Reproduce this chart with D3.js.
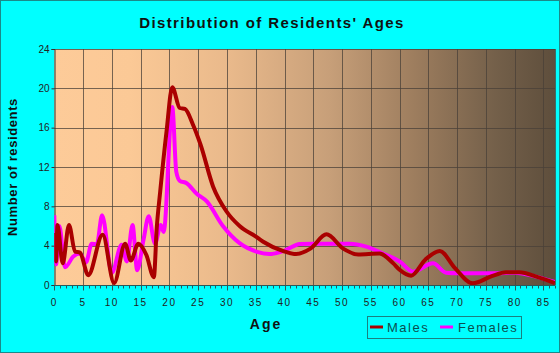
<!DOCTYPE html>
<html><head><meta charset="utf-8">
<script src="https://cdn.jsdelivr.net/npm/d3@7"></script>
<style>
html,body{margin:0;padding:0;background:#00ffff;}
svg{display:block;}
text{font-family:"Liberation Sans",Arial,sans-serif;}
</style></head>
<body>
<script>
// ---- data ----
const maleAges   = [0,0.3,0.55,1.46,2.55,3.6,4.46,5.9,8.4,10.4,12.3,13.3,14.6,16.0,17.3,17.8,18.4,19.5,20.5,21.8,22.7,24.1,25.4,27.6,29.9,32.2,35.1,36.3,39.8,42.0,44.5,47.3,50.2,52.8,56.5,58.9,60.0,62.0,64.5,67.0,69.5,72.7,76.0,78.5,80.8,84.0,87.0];
const maleValues = [5.3,2.4,6.1,2.2,6.1,3.4,3.3,1.0,5.1,0.2,4.2,2.5,4.2,3.05,0.8,5.8,9.5,15.6,20.1,18.0,17.9,16.3,14.3,10.0,7.5,6.0,4.9,4.4,3.45,3.15,3.7,5.15,3.7,3.1,3.2,2.2,1.55,0.95,2.6,3.46,1.8,0.17,0.9,1.3,1.3,0.8,0.2];
const femaleAges   = [0,0.3,0.87,1.86,3.3,4.46,5.5,6.5,7.4,8.3,10.0,11.7,12.6,13.6,14.4,15.5,16.4,17.5,18.5,19.0,20.5,21.2,21.8,23.0,24.7,26.5,29.3,32.2,35.1,37.4,40.0,42.7,45.0,51.3,54.2,57.1,60.0,62.3,65.8,68.1,70.0,76.8,80.0,84.0,87.0];
const femaleValues = [7.1,2.1,6.0,1.8,2.9,3.2,2.3,4.2,4.15,7.1,1.25,4.1,2.4,6.1,1.5,4.6,7.0,4.2,6.1,5.4,18.1,11.5,10.6,10.35,9.3,8.5,6.0,4.25,3.4,3.15,3.5,4.17,4.2,4.2,3.9,3.2,2.4,1.36,2.2,1.25,1.2,1.2,1.25,0.8,0.3];
const yTicks = [0,4,8,12,16,20,24];
const xTicks = [0,5,10,15,20,25,30,35,40,45,50,55,60,65,70,75,80,85];
const seriesNames = ["Males","Females"];
const seriesColors = ["#aa0000","#ff00ff"];

const W = 560, H = 353;
const m = {left:54.3, right:555, top:49, bottom:285};
const svg = d3.select("body").append("svg").attr("width",W).attr("height",H);

// outer border
svg.append("rect").attr("x",0.5).attr("y",0.5).attr("width",W-1).attr("height",H-1)
  .attr("fill","#00ffff").attr("stroke","#1a8a8a").attr("stroke-width",1);

const x = d3.scaleLinear().domain([0,87]).range([m.left,m.right]);
const y = d3.scaleLinear().domain([0,24]).range([m.bottom,m.top]);

// gradient background
const defs = svg.append("defs");
const g = defs.append("linearGradient").attr("id","bg").attr("x1","0%").attr("x2","100%").attr("y1","0%").attr("y2","0%");
[[0,"#fdcb99"],[0.15,"#fbc996"],[0.35,"#e9b98b"],[0.55,"#c79f79"],[0.72,"#9d7d5e"],[0.88,"#74604a"],[1,"#5e4e3c"]]
  .forEach(s=>g.append("stop").attr("offset",s[0]).attr("stop-color",s[1]));
svg.append("rect").attr("x",m.left).attr("y",m.top).attr("width",m.right-m.left).attr("height",m.bottom-m.top).attr("fill","url(#bg)");

// grid
const grid = svg.append("g").attr("stroke","#4a4038").attr("stroke-opacity",0.75).attr("stroke-width",1);
yTicks.filter(t=>t>0).forEach(t=>grid.append("line").attr("x1",m.left).attr("x2",m.right)
  .attr("y1",Math.round(y(t))+0.5).attr("y2",Math.round(y(t))+0.5));
xTicks.filter(t=>t>0).forEach(t=>grid.append("line").attr("y1",m.top).attr("y2",m.bottom)
  .attr("x1",Math.round(x(t))+0.5).attr("x2",Math.round(x(t))+0.5));
grid.append("line").attr("x1",m.right+0.5).attr("x2",m.right+0.5).attr("y1",m.top).attr("y2",m.bottom);

// axes
const yAxis = d3.axisLeft(y).tickValues(yTicks).tickSize(3).tickPadding(2);
const ya = svg.append("g").attr("transform",`translate(${Math.round(m.left)+0.5},0)`).call(yAxis);
ya.select(".domain").attr("stroke","#333");
ya.selectAll(".tick line").attr("stroke","#333");
ya.selectAll("text").attr("font-size",10).attr("fill","#222").attr("font-family","Liberation Sans, Arial, sans-serif");

const xMinor = d3.range(0,88,1);
const xa = svg.append("g").attr("transform",`translate(0,${m.bottom+0.5})`);
xa.append("line").attr("x1",m.left).attr("x2",m.right).attr("stroke","#2a5a5a").attr("stroke-width",1);
xa.selectAll("line.minor").data(xMinor).join("line").attr("class","minor")
  .attr("x1",d=>Math.round(x(d))+0.5).attr("x2",d=>Math.round(x(d))+0.5)
  .attr("y1",0).attr("y2",d=>d%5===0?5:3).attr("stroke","#2a5a5a");
xa.selectAll("text").data(xTicks).join("text")
  .attr("x",d=>x(d)).attr("y",20).attr("text-anchor","middle")
  .attr("font-size",10).attr("letter-spacing","1.5px").attr("fill","#222")
  .text(d=>d);

// axis titles
svg.append("text").attr("x",266).attr("y",329).attr("text-anchor","middle")
  .attr("font-size",14).attr("font-weight","bold").attr("letter-spacing","2px").attr("fill","#111").text("Age");
svg.append("text").attr("transform","translate(17,167) rotate(-90)").attr("text-anchor","middle")
  .attr("font-size",13).attr("font-weight","bold").attr("letter-spacing","0.6px").attr("fill","#111").text("Number of residents");
// title
svg.append("text").attr("x",272).attr("y",28).attr("text-anchor","middle")
  .attr("font-size",15).attr("font-weight","bold").attr("letter-spacing","1.4px").attr("fill","#111")
  .text("Distribution of Residents' Ages");

// lines
const line = d3.line().x(d=>x(d[0])).y(d=>y(d[1])).curve(d3.curveMonotoneX);
const clip = defs.append("clipPath").attr("id","pc");
clip.append("rect").attr("x",m.left).attr("y",m.top-3).attr("width",m.right-m.left).attr("height",m.bottom-m.top+3);
const plot = svg.append("g").attr("clip-path","url(#pc)");
const femaleData = femaleAges.map((a,i)=>[a,femaleValues[i]]);
const maleData = maleAges.map((a,i)=>[a,maleValues[i]]);
plot.append("path").datum(femaleData).attr("d",line).attr("fill","none")
  .attr("stroke",seriesColors[1]).attr("stroke-width",4).attr("stroke-linejoin","round");
plot.append("path").datum(maleData).attr("d",line).attr("fill","none")
  .attr("stroke",seriesColors[0]).attr("stroke-width",4).attr("stroke-linejoin","round");

// legend
const lg = svg.append("g");
lg.append("rect").attr("x",367.5).attr("y",316.5).attr("width",154).attr("height",22)
  .attr("fill","none").attr("stroke","#1a8080").attr("stroke-width",1);
const legX = [370,440], legTX = [387,458];
seriesNames.forEach((n,i)=>{
  lg.append("line").attr("x1",legX[i]).attr("x2",legX[i]+13).attr("y1",327).attr("y2",327)
    .attr("stroke",seriesColors[i]).attr("stroke-width",3);
  lg.append("text").attr("x",legTX[i]).attr("y",332).attr("font-size",13).attr("letter-spacing","1.5px")
    .attr("fill","#0a4f4f").text(n);
});
</script>
</body></html>
